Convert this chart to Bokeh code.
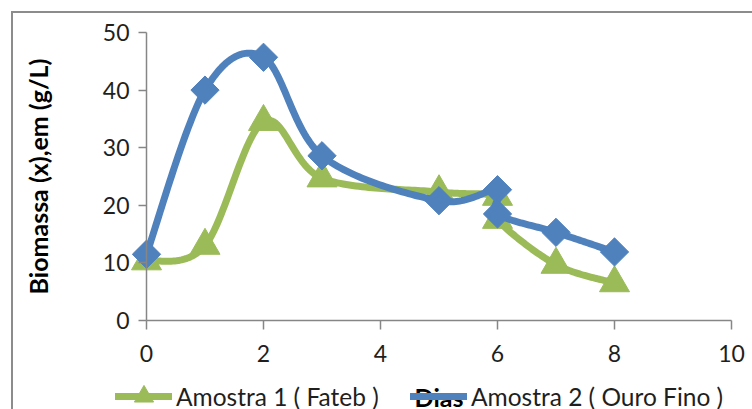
import numpy as np
from bokeh.plotting import figure
from bokeh.models import FixedTicker, Legend, LegendItem, Range1d
from bokeh.embed import file_html
from bokeh.resources import INLINE

# Biomass readings per day for the two samples
dias_1 = [0, 1, 2, 3, 5, 6, 6, 7, 8]
biomassa_1 = [10.3, 13.0, 34.5, 24.7, 22.3, 21.5, 17.5, 9.7, 6.5]
dias_2 = [0, 1, 2, 3, 5, 6, 6, 7, 8]
biomassa_2 = [11.5, 40.0, 45.7, 28.6, 20.8, 22.7, 18.5, 15.3, 11.9]

nome_1 = "Amostra 1 ( Fateb )"
nome_2 = "Amostra 2 ( Ouro Fino )"
x_ticks = [0, 2, 4, 6, 8, 10]
y_ticks = [0, 10, 20, 30, 40, 50]

VERDE = "#9BBB59"
AZUL = "#4F81BD"
CINZA = "#868686"
FONTE = "Lato"

# Canvas geometry: the axes box spans x 0..10 and y 0..50 inside a larger
# frame, so the legend row below the axes lives inside the frame too.
W, H = 752, 409
AX_L, AX_R, AX_T, AX_B = 146, 731, 32, 320
X0, X1, Y0, Y1 = 0, 10, 0, 50
ppx = (AX_R - AX_L) / (X1 - X0)
ppy = (AX_B - AX_T) / (Y1 - Y0)
x_range = Range1d(X0 - AX_L / ppx, X1 + (W - AX_R) / ppx)
y_range = Range1d(Y0 - (H - AX_B) / ppy, Y1 + AX_T / ppy)


def suavizar(xs, ys, n=40):
    """Smooth curve through the points (cubic Bezier, Catmull-Rom tangents)."""
    p = np.column_stack([xs, ys]).astype(float)
    m = len(p)
    out = [p[0]]
    for i in range(m - 1):
        p0 = p[i - 1] if i > 0 else p[i]
        p1 = p[i]
        p2 = p[i + 1]
        p3 = p[i + 2] if i + 2 < m else p[i + 1]
        c1 = p1 + (p2 - p0) / 6.0
        c2 = p2 - (p3 - p1) / 6.0
        t = np.linspace(0, 1, n)[1:, None]
        seg = ((1 - t) ** 3) * p1 + 3 * ((1 - t) ** 2) * t * c1 + 3 * (1 - t) * t ** 2 * c2 + t ** 3 * p2
        out.extend(seg)
    out = np.array(out)
    return out[:, 0], out[:, 1]


p = figure(width=W, height=H, x_range=x_range, y_range=y_range,
           output_backend="svg", toolbar_location=None,
           min_border=0, min_border_left=0, min_border_right=0,
           min_border_top=0, min_border_bottom=0)
p.title.visible = False
p.outline_line_color = None
p.grid.grid_line_color = None
p.background_fill_color = "white"
p.border_fill_color = "white"

# Chart area border (left and top edges visible in the window)
p.stylesheets = [
    ":host { position: relative; }",
    ":host::after { content: ''; position: absolute; left: 11px; top: 11px; "
    "width: 900px; height: 600px; border: 2px solid #8c8c8c; "
    "box-sizing: border-box; pointer-events: none; z-index: 10; }",
]

xa, ya = p.xaxis[0], p.yaxis[0]
xa.fixed_location = Y0
ya.fixed_location = X0
xa.bounds = (X0, X1)
ya.bounds = (Y0, Y1)

for ax in (xa, ya):
    ax.axis_line_color = CINZA
    ax.axis_line_width = 1.5
    ax.major_tick_line_color = CINZA
    ax.major_tick_line_width = 1.5
    ax.minor_tick_line_color = None
    ax.major_tick_in = 0
    ax.major_label_text_font = FONTE
    ax.major_label_text_font_size = "23px"
    ax.major_label_text_color = "#1f1f1f"

xa.ticker = FixedTicker(ticks=x_ticks)
ya.ticker = FixedTicker(ticks=y_ticks)
xa.major_tick_out = 9
ya.major_tick_out = 8
xa.major_label_standoff = 15
ya.major_label_standoff = 9

ya.axis_label = "Biomassa (x),em (g/L)"
ya.axis_label_text_font = FONTE
ya.axis_label_text_font_style = "bold"
ya.axis_label_text_font_size = "25px"
ya.axis_label_text_color = "#000000"
ya.axis_label_standoff = 47

xa.axis_label = "Dias"
xa.axis_label_text_font = FONTE
xa.axis_label_text_font_style = "bold"
xa.axis_label_text_font_size = "25px"
xa.axis_label_text_color = "#000000"
xa.axis_label_standoff = 17

# Curves and markers
sx1, sy1 = suavizar(dias_1, biomassa_1)
sx2, sy2 = suavizar(dias_2, biomassa_2)
l1 = p.line(sx1, sy1, line_color=VERDE, line_width=7, line_join="round", line_cap="round")
m1 = p.scatter(dias_1, biomassa_1, marker="triangle", size=30, fill_color=VERDE, line_color=VERDE)
l2 = p.line(sx2, sy2, line_color=AZUL, line_width=7, line_join="round", line_cap="round")
m2 = p.scatter(dias_2, biomassa_2, marker="square", angle=np.pi / 4, size=20,
               fill_color=AZUL, line_color=AZUL)
# diamond swatch for the legend entry (legend swatches are drawn unrotated)
m2_leg = p.scatter([], [], marker="diamond", fill_color=AZUL, line_color=AZUL)


def legenda(item, x):
    lg = Legend(items=[item], location=(x, -11), orientation="horizontal",
                glyph_width=57, glyph_height=48, label_height=48, label_standoff=4,
                padding=0, margin=0, border_line_color=None, background_fill_alpha=0,
                label_text_font=FONTE, label_text_font_size="24.5px",
                label_text_color="#1f1f1f")
    p.add_layout(lg, "center")


legenda(LegendItem(label=nome_1, renderers=[l1, m1]), 115)
legenda(LegendItem(label=nome_2, renderers=[l2, m2_leg]), 410)

open("out.html", "w").write(file_html(p, INLINE))
